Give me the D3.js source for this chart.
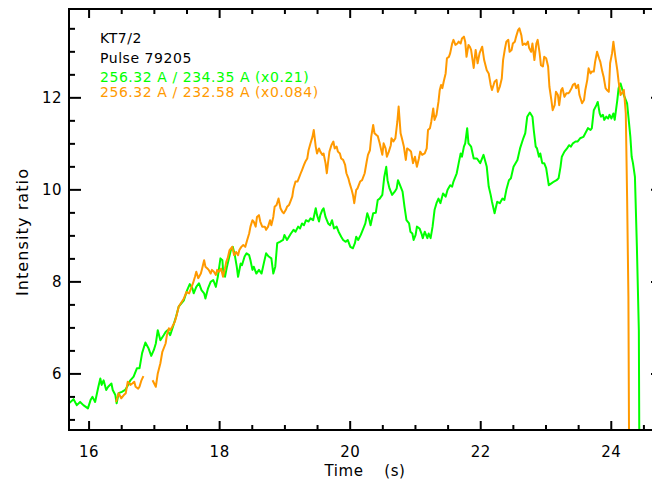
<!DOCTYPE html>
<html><head><meta charset="utf-8">
<script src="https://cdn.jsdelivr.net/npm/d3@7"></script>
<style>
html,body{margin:0;padding:0;background:#fff;}
svg{display:block;}
text{font-family:"DejaVu Sans",sans-serif;fill:#000;}
</style></head>
<body><svg id="c" width="652" height="482"></svg>
<script>
// ---- data ----
const xTicks = [16, 18, 20, 22, 24];
const yTicks = [6, 8, 10, 12];
const xDomain = [15.7, 24.8];
const yDomain = [4.77, 13.92];
const annotations = ["KT7/2", "Pulse 79205", "256.32 A / 234.35 A (x0.21)", "256.32 A / 232.58 A (x0.084)"];
const annotationColors = ["#000000", "#000000", "#00ff00", "#ff9900"];
const xTitle = "Time  (s)";
const yTitle = "Intensity ratio";

const greenTime = [
15.70,15.77,15.82,15.87,15.92,15.99,16.03,16.06,16.10,16.15,
16.18,16.20,16.23,16.27,16.30,16.35,16.37,16.41,16.43,16.46,
16.51,16.56,16.59,16.64,16.69,16.74,16.78,16.82,16.87,16.92,
16.96,17.00,17.03,17.06,17.10,17.15,17.18,17.21,17.25,17.30,
17.34,17.38,17.46,17.51,17.55,17.59,17.61,17.65,17.69,17.73,
17.77,17.79,17.83,17.87,17.91,17.95,17.98,18.02,18.05,18.06,
18.09,18.12,18.15,18.18,18.21,18.24,18.27,18.29,18.33,18.35,
18.39,18.42,18.46,18.48,18.51,18.53,18.57,18.61,18.65,18.69,
18.72,18.76,18.80,18.83,18.86,18.89,18.93,18.98,19.00,19.04,
19.07,19.10,19.14,19.17,19.21,19.24,19.27,19.30,19.33,19.37,
19.40,19.44,19.48,19.50,19.53,19.55,19.58,19.60,19.63,19.67,
19.70,19.73,19.76,19.80,19.83,19.87,19.90,19.94,19.97,20.01,
20.05,20.08,20.10,20.13,20.17,20.21,20.24,20.27,20.29,20.32,
20.36,20.40,20.43,20.46,20.50,20.53,20.56,20.58,20.61,20.65,
20.69,20.72,20.74,20.78,20.81,20.84,20.87,20.91,20.93,20.96,
20.98,21.01,21.03,21.07,21.10,21.12,21.15,21.19,21.21,21.24,
21.27,21.30,21.33,21.36,21.39,21.43,21.47,21.50,21.54,21.57,
21.59,21.64,21.67,21.70,21.72,21.75,21.77,21.80,21.82,21.86,
21.90,21.95,22.00,22.05,22.10,22.13,22.16,22.18,22.22,22.26,
22.30,22.34,22.37,22.40,22.44,22.47,22.51,22.57,22.61,22.66,
22.69,22.72,22.76,22.80,22.82,22.85,22.87,22.90,22.92,22.95,
22.98,23.01,23.05,23.09,23.13,23.17,23.20,23.23,23.25,23.29,
23.33,23.36,23.39,23.42,23.46,23.49,23.53,23.58,23.61,23.65,
23.69,23.71,23.74,23.78,23.80,23.83,23.85,23.88,23.90,23.93,
23.96,23.98,24.01,24.04,24.06,24.10,24.12,24.15,24.17,24.20,
24.22,24.25,24.27,24.30,24.32,24.34,24.37,24.40,24.43,24.44];
const greenRatio = [
5.35,5.44,5.31,5.38,5.31,5.24,5.42,5.49,5.38,5.71,
5.89,5.75,5.85,5.64,5.71,5.78,5.64,5.53,5.35,5.57,
5.60,5.64,5.71,5.85,5.93,6.11,6.11,6.44,6.67,6.54,
6.38,6.51,6.65,6.94,6.72,6.83,6.90,6.94,6.83,7.05,
7.23,7.45,7.59,7.81,7.94,7.85,7.74,7.88,7.96,7.81,
7.74,7.63,7.85,7.99,8.03,7.88,8.10,8.50,8.46,8.25,
8.10,8.32,8.50,8.68,8.75,8.57,8.32,8.10,8.39,8.35,
8.54,8.61,8.57,8.46,8.25,8.32,8.17,8.25,8.17,8.43,
8.61,8.54,8.50,8.17,8.32,8.83,8.86,8.90,9.01,8.90,
8.97,9.04,9.12,9.08,9.19,9.15,9.26,9.22,9.33,9.30,
9.37,9.33,9.59,9.44,9.30,9.44,9.55,9.59,9.40,9.26,
9.22,9.33,9.15,9.19,9.08,8.97,8.90,8.86,8.90,8.75,
8.72,8.83,8.97,8.90,9.01,9.15,9.26,9.48,9.40,9.22,
9.48,9.49,9.77,9.80,9.88,10.27,10.49,10.20,10.02,9.88,
9.95,10.02,10.20,10.06,9.95,9.62,9.33,9.26,9.08,9.04,
8.90,9.01,9.19,9.15,9.04,8.94,9.08,8.94,9.04,8.94,
9.19,9.55,9.70,9.80,9.70,9.91,9.84,9.99,10.09,10.06,
10.17,10.35,10.57,10.78,10.71,10.93,11.00,11.33,11.00,10.93,
10.67,10.67,10.57,10.75,10.49,10.06,9.88,9.73,9.48,9.73,
9.70,9.80,9.77,9.99,10.20,10.24,10.49,10.64,10.89,11.11,
11.22,11.58,11.67,11.58,11.29,10.93,10.89,10.71,10.78,10.57,
10.57,10.46,10.09,10.13,10.17,10.20,10.24,10.49,10.71,10.82,
10.89,10.96,10.93,11.00,11.04,11.04,11.11,11.14,11.22,11.33,
11.29,11.33,11.72,11.83,11.90,11.65,11.58,11.62,11.51,11.58,
11.54,11.62,11.54,11.65,11.51,11.94,12.20,12.30,12.20,12.05,
11.98,11.87,11.58,11.14,10.71,10.57,10.27,8.75,6.94,3.50];

const orangeTime = [
16.42,16.46,16.50,16.54,16.57,16.60,16.64,16.67,16.70,16.72,
16.76,16.78,16.81,16.84,16.91,16.98,17.03,17.06,17.10,17.13,
17.18,17.20,17.23,17.25,17.28,17.32,17.35,17.38,17.46,17.50,
17.54,17.57,17.60,17.63,17.65,17.68,17.72,17.74,17.77,17.79,
17.82,17.84,17.87,17.89,17.92,17.95,17.97,18.00,18.03,18.06,
18.09,18.11,18.13,18.16,18.20,18.23,18.26,18.29,18.31,18.34,
18.37,18.40,18.43,18.46,18.48,18.51,18.53,18.56,18.58,18.61,
18.63,18.66,18.70,18.72,18.75,18.78,18.80,18.83,18.85,18.88,
18.91,18.94,18.97,18.99,19.02,19.04,19.07,19.09,19.12,19.14,
19.17,19.20,19.22,19.25,19.27,19.30,19.32,19.35,19.37,19.40,
19.43,19.45,19.48,19.50,19.53,19.55,19.58,19.60,19.63,19.65,
19.67,19.69,19.72,19.75,19.77,19.80,19.82,19.85,19.87,19.90,
19.93,19.95,19.98,20.00,20.03,20.05,20.07,20.10,20.12,20.16,
20.19,20.23,20.26,20.28,20.31,20.33,20.36,20.38,20.41,20.43,
20.46,20.50,20.52,20.55,20.57,20.60,20.63,20.64,20.67,20.70,
20.73,20.75,20.78,20.80,20.83,20.86,20.88,20.92,20.94,20.97,
21.00,21.03,21.06,21.08,21.11,21.15,21.18,21.20,21.23,21.25,
21.28,21.30,21.33,21.36,21.38,21.40,21.42,21.44,21.47,21.49,
21.52,21.54,21.57,21.59,21.62,21.65,21.67,21.70,21.72,21.75,
21.77,21.79,21.82,21.84,21.86,21.90,21.93,21.96,21.99,22.03,
22.06,22.10,22.13,22.16,22.18,22.22,22.25,22.27,22.30,22.33,
22.35,22.38,22.40,22.43,22.45,22.48,22.50,22.53,22.55,22.58,
22.60,22.63,22.65,22.68,22.70,22.73,22.75,22.78,22.80,22.83,
22.86,22.88,22.91,22.93,22.96,22.98,23.01,23.04,23.06,23.09,
23.11,23.14,23.16,23.19,23.21,23.24,23.26,23.29,23.32,23.35,
23.37,23.40,23.42,23.45,23.47,23.50,23.52,23.56,23.59,23.61,
23.64,23.66,23.69,23.71,23.74,23.76,23.79,23.82,23.84,23.87,
23.89,23.92,23.94,23.97,23.99,24.02,24.04,24.07,24.10,24.12,
24.15,24.17,24.20,24.21,24.23,24.25,24.27,24.28];
const orangeRatio = [
5.38,5.57,5.46,5.53,5.57,5.82,5.75,5.78,5.82,5.71,
5.67,5.71,5.85,5.94,null,5.85,5.71,6.00,6.22,6.47,
6.65,6.83,6.98,6.94,7.01,7.12,7.27,7.45,7.63,7.77,
7.74,7.85,7.96,8.10,8.21,8.07,8.17,8.28,8.46,8.32,
8.28,8.25,8.17,8.25,8.21,8.14,8.25,8.21,8.28,8.10,
8.28,8.43,8.50,8.68,8.75,8.57,8.64,8.57,8.68,8.75,
8.79,8.75,8.90,9.04,9.19,9.33,9.30,9.19,9.40,9.44,
9.30,9.19,9.19,9.12,9.19,9.33,9.22,9.40,9.62,9.66,
9.80,9.59,9.51,9.48,9.55,9.62,9.66,9.73,9.84,10.02,
10.17,10.17,10.24,10.35,10.42,10.53,10.60,10.67,10.85,11.00,
11.14,11.29,10.93,10.78,10.89,10.82,10.75,10.78,10.57,10.35,
10.60,10.82,10.96,11.04,10.89,10.93,10.82,10.78,10.67,10.64,
10.53,10.35,10.24,10.13,9.99,9.88,9.70,9.99,10.02,10.17,
10.20,10.35,10.60,10.75,10.85,11.14,11.40,11.22,11.18,11.16,
11.00,10.75,11.00,10.89,10.71,10.82,10.96,11.11,11.04,11.11,
11.47,11.80,11.22,11.11,10.93,10.64,10.89,10.85,10.82,10.57,
10.71,10.49,10.67,10.82,10.75,10.78,10.89,11.29,11.33,11.47,
11.76,11.51,11.62,11.90,12.16,12.27,12.20,12.34,12.52,12.85,
12.88,12.96,13.17,13.25,13.14,13.17,13.21,13.17,13.28,13.32,
13.21,12.88,13.14,13.10,13.03,12.64,13.03,12.74,12.96,13.10,
12.81,12.59,12.52,12.27,12.16,12.34,12.38,12.12,12.23,12.41,
12.81,13.07,13.21,13.25,12.99,13.03,13.17,13.21,13.32,13.46,
13.50,13.35,13.14,13.17,13.14,13.21,13.07,12.99,13.17,12.81,
13.17,13.25,12.96,12.70,12.67,12.88,12.85,12.67,12.23,11.94,
11.72,11.83,12.12,12.05,11.83,12.16,12.20,12.01,12.09,12.09,
12.12,12.20,12.27,12.30,12.20,12.27,12.05,11.87,11.94,12.16,
12.38,12.63,12.52,12.56,12.56,12.77,12.99,12.85,12.77,12.56,
12.45,12.20,12.16,12.12,12.74,12.96,13.21,12.88,12.59,12.34,
12.05,12.09,12.16,12.01,11.65,9.84,7.67,4.50];

const seriesColors = ["#00ff00", "#ff9900"];

// ---- drawing ----
const svg = d3.select("#c");
const plot = {left: 69, right: 663, top: 9, bottom: 430};
const x = d3.scaleLinear().domain(xDomain).range([plot.left, plot.right]);
const y = d3.scaleLinear().domain(yDomain).range([plot.bottom, plot.top]);

svg.append("defs").append("clipPath").attr("id", "clip")
  .append("rect").attr("x", plot.left).attr("y", plot.top)
  .attr("width", plot.right - plot.left).attr("height", plot.bottom - plot.top);

const line = d3.line().defined(d => d[1] !== null).x(d => x(d[0])).y(d => y(d[1]));
const greenData = d3.zip(greenTime, greenRatio);
const orangeData = d3.zip(orangeTime, orangeRatio);

const g = svg.append("g").attr("clip-path", "url(#clip)");
g.append("path").datum(greenData).attr("d", line).attr("fill", "none")
  .attr("stroke", seriesColors[0]).attr("stroke-width", 2).attr("stroke-linejoin", "round");
g.append("path").datum(orangeData).attr("d", line).attr("fill", "none")
  .attr("stroke", seriesColors[1]).attr("stroke-width", 2).attr("stroke-linejoin", "round");

// axes
const xMinor = d3.range(15.5, 25.01, 0.5).filter(v => v >= xDomain[0] && v <= xDomain[1] && !xTicks.includes(v));
const yMinor = d3.range(5, 14.01, 0.5).filter(v => v >= yDomain[0] && v <= yDomain[1] && !yTicks.includes(v));

function styleAxis(sel) {
  sel.select(".domain").remove();
  sel.selectAll(".tick line").attr("stroke", "#000").attr("stroke-width", 2);
  sel.selectAll(".tick text").attr("font-size", 15).attr("font-family", "DejaVu Sans, sans-serif")
    .attr("fill", "#000").attr("letter-spacing", 0.5);
}
// bottom
svg.append("g").attr("transform", `translate(0,${plot.bottom})`)
  .call(d3.axisBottom(x).tickValues(xTicks).tickSizeInner(-9).tickSizeOuter(0).tickPadding(16).tickFormat(d3.format("d")))
  .call(styleAxis);
svg.append("g").attr("transform", `translate(0,${plot.bottom})`)
  .call(d3.axisBottom(x).tickValues(xMinor).tickSizeInner(-5).tickSizeOuter(0).tickFormat(""))
  .call(styleAxis);
// top
svg.append("g").attr("transform", `translate(0,${plot.top})`)
  .call(d3.axisTop(x).tickValues(xTicks).tickSizeInner(-9).tickSizeOuter(0).tickFormat(""))
  .call(styleAxis);
svg.append("g").attr("transform", `translate(0,${plot.top})`)
  .call(d3.axisTop(x).tickValues(xMinor).tickSizeInner(-5).tickSizeOuter(0).tickFormat(""))
  .call(styleAxis);
// left
svg.append("g").attr("transform", `translate(${plot.left},0)`)
  .call(d3.axisLeft(y).tickValues(yTicks).tickSizeInner(-12).tickSizeOuter(0).tickPadding(7).tickFormat(d3.format("d")))
  .call(styleAxis);
svg.append("g").attr("transform", `translate(${plot.left},0)`)
  .call(d3.axisLeft(y).tickValues(yMinor).tickSizeInner(-6).tickSizeOuter(0).tickFormat(""))
  .call(styleAxis);
// right
svg.append("g").attr("transform", `translate(${plot.right},0)`)
  .call(d3.axisRight(y).tickValues(yTicks).tickSizeInner(-12).tickSizeOuter(0).tickFormat(""))
  .call(styleAxis);
svg.append("g").attr("transform", `translate(${plot.right},0)`)
  .call(d3.axisRight(y).tickValues(yMinor).tickSizeInner(-6).tickSizeOuter(0).tickFormat(""))
  .call(styleAxis);

// frame
svg.append("rect").attr("x", plot.left).attr("y", plot.top)
  .attr("width", plot.right - plot.left).attr("height", plot.bottom - plot.top)
  .attr("fill", "none").attr("stroke", "#000").attr("stroke-width", 2);

// titles
svg.append("text").attr("x", 365).attr("y", 476).attr("text-anchor", "middle")
  .attr("font-size", 15).attr("letter-spacing", 0.6).attr("word-spacing", 5)
  .style("white-space", "pre").text(xTitle);
svg.append("text").attr("transform", "translate(28,232) rotate(-90)").attr("text-anchor", "middle")
  .attr("font-size", 16).attr("letter-spacing", 1.1).text(yTitle);

// annotations
const annBase = [43, 62.5, 82, 97];
annotations.forEach((t, i) => {
  svg.append("text").attr("x", 100).attr("y", annBase[i]).attr("font-size", 14)
    .attr("letter-spacing", 0.55)
    .style("fill", annotationColors[i]).style("white-space", "pre").text(t);
});
</script></body></html>
